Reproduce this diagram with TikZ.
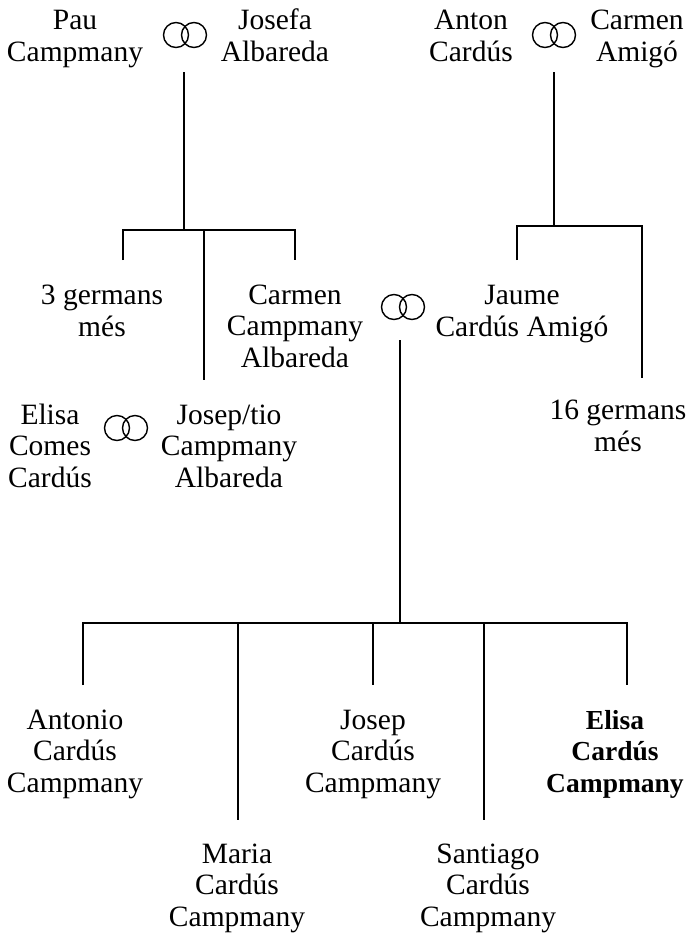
\documentclass[tikz,border=0pt]{standalone}
\usepackage{fontspec}
\setmainfont{Liberation Serif}
\begin{document}
\begin{tikzpicture}[x=1pt,y=-1pt,
  person/.style={align=center, inner sep=0pt, anchor=base, font=\fontsize{29.5}{31.3}\selectfont},
  boldperson/.style={person, font=\fontsize{27.5}{31.3}\selectfont\bfseries},
  ringnode/.style={minimum width=44pt, minimum height=26pt, inner sep=0pt},
  link/.style={line width=1.6pt},
  ringline/.style={line width=1.4pt}]
\useasboundingbox (0,0) rectangle (690,938);
% generation 1 (anchor = baseline of last line)
\node[person] (pau) at (75,61) {Pau\\Campmany};
\node[person] (josefa) at (275,61) {Josefa\\Albareda};
\node[person] (anton) at (471,61) {Anton\\Cardús};
\node[person] (carmenA) at (637,61) {Carmen\\Amigó};
% generation 2
\node[person] (germ3) at (102,336) {3 germans\\més};
\node[person] (carmenC) at (295,367) {Carmen\\Campmany\\Albareda};
\node[person] (jaume) at (522,336) {Jaume\\Cardús Amigó};
\node[person] (germ16) at (618,451) {16 germans\\més};
\node[person] (elisaC) at (50,487) {Elisa\\Comes\\Cardús};
\node[person] (josepT) at (229,487) {Josep/tio\\Campmany\\Albareda};
% generation 3
\node[person] (antonio) at (75,792) {Antonio\\Cardús\\Campmany};
\node[person] (maria) at (237,926) {Maria\\Cardús\\Campmany};
\node[person] (josepC) at (373,792) {Josep\\Cardús\\Campmany};
\node[person] (santiago) at (488,926) {Santiago\\Cardús\\Campmany};
\node[boldperson] (elisa) at (615,792) {Elisa\\Cardús\\Campmany};
% rings
\foreach \n/\p in {r1/{(185,35)}, r2/{(554,35)}, r3/{(403,307)}, r4/{(126,428)}} {
  \node[ringnode] (\n) at \p {};
  \draw[ringline] ([xshift=-9pt]\n.center) circle[radius=12.5pt];
  \draw[ringline] ([xshift=9pt]\n.center) circle[radius=12.5pt];
}
% junction coordinates
\coordinate (a0) at (184,72);
\coordinate (a1) at (184,230);
\coordinate (aL) at (123,230);
\coordinate (aLe) at (123,260);
\coordinate (aR) at (295,230);
\coordinate (aRe) at (295,260);
\coordinate (aM) at (204,230);
\coordinate (aMe) at (204,380);
\coordinate (b0) at (554,72);
\coordinate (b1) at (554,226);
\coordinate (bL) at (517,226);
\coordinate (bLe) at (517,260);
\coordinate (bR) at (642,226);
\coordinate (bRe) at (642,378);
\coordinate (c0) at (400,340);
\coordinate (c1) at (400,623);
\coordinate (c2) at (83,623);
\coordinate (c2e) at (83,685);
\coordinate (c3) at (238,623);
\coordinate (c3e) at (238,820);
\coordinate (c4) at (373,623);
\coordinate (c4e) at (373,685);
\coordinate (c5) at (484,623);
\coordinate (c5e) at (484,820);
\coordinate (c6) at (627,623);
\coordinate (c6e) at (627,685);
% connectors
\draw[link] (a0) -- (a1);
\draw[link] (aLe) -- (aL) -- (aR) -- (aRe);
\draw[link] (aM) -- (aMe);
\draw[link] (b0) -- (b1);
\draw[link] (bLe) -- (bL) -- (bR) -- (bRe);
\draw[link] (c0) -- (c1);
\draw[link] (c2e) -- (c2) -- (c6) -- (c6e);
\draw[link] (c3) -- (c3e);
\draw[link] (c4) -- (c4e);
\draw[link] (c5) -- (c5e);
\end{tikzpicture}
\end{document}
